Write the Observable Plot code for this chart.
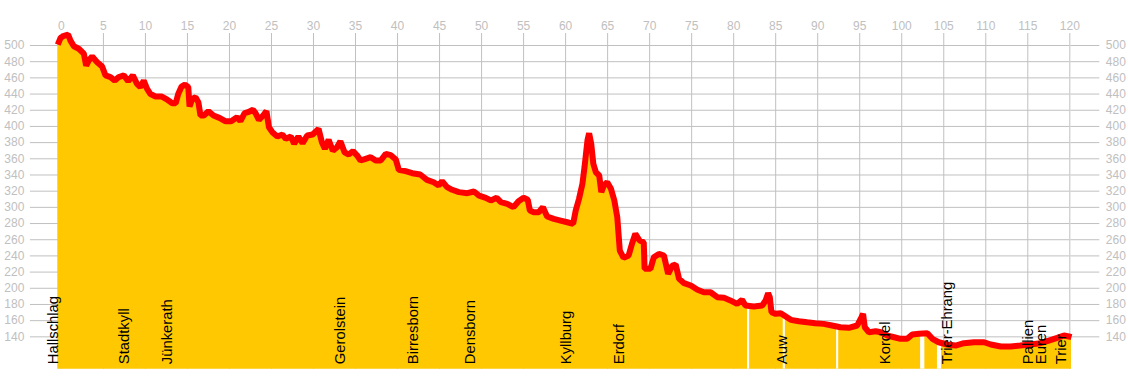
<!DOCTYPE html>
<html>
<head>
<meta charset="utf-8">
<script src="https://cdn.jsdelivr.net/npm/d3@7"></script>
<script src="https://cdn.jsdelivr.net/npm/@observablehq/plot@0.6"></script>
<style>
  html, body { margin: 0; padding: 0; background: #fff; }
  #chart svg { display: block; }
</style>
</head>
<body>
<div id="chart"></div>
<script>
// Distance along the route (km) and elevation (m)
const km = [
  -0.43, -0.1, 0.3, 0.8, 1.08, 1.48, 2.07, 2.67, 2.95, 3.26, 3.66, 4.26, 4.85, 5.25, 5.84, 6.36, 6.83, 7.43, 7.95, 8.5,
  9.0, 9.4, 9.8, 10.2, 10.6, 11.2, 11.9, 12.6, 13.2, 13.6, 13.9, 14.3, 14.7, 15.1, 15.25, 15.56, 15.96, 16.3, 16.55, 16.95,
  17.5, 18.1, 18.8, 19.5, 20.2, 20.9, 21.3, 21.8, 22.2, 22.8, 23.1, 23.5, 24.0, 24.4, 24.7, 25.1, 25.7, 26.3, 26.7, 27.3,
  27.7, 28.2, 28.7, 29.25, 29.9, 30.6, 31.0, 31.35, 31.8, 32.3, 32.8, 33.2, 33.7, 34.2, 34.7, 35.2, 35.6, 36.2, 36.8, 37.4,
  38.0, 38.6, 39.2, 39.8, 40.15, 40.95, 41.75, 42.7, 43.5, 44.3, 44.9, 45.3, 45.9, 46.5, 47.3, 48.3, 49.1, 49.7, 50.5, 51.1,
  51.8, 52.3, 53.05, 53.8, 54.4, 55.0, 55.5, 55.75, 56.2, 56.8, 57.3, 57.8, 58.6, 59.4, 60.2, 60.9, 61.2, 61.6, 62.0, 62.25,
  62.6, 62.8, 63.05, 63.3, 63.6, 64.0, 64.25, 64.55, 64.95, 65.4, 65.8, 66.15, 66.45, 66.9, 67.5, 67.9, 68.3, 68.8, 69.3, 69.4,
  70.1, 70.5, 71.1, 71.7, 72.2, 72.7, 73.1, 73.5, 74.1, 74.9, 75.7, 76.45, 77.25, 78.05, 78.85, 79.6, 80.4, 81.0, 81.4, 82.4,
  83.4, 83.8, 84.1, 84.3, 84.5, 85.0, 85.6, 86.2, 86.8, 87.75, 88.75, 89.7, 90.7, 91.7, 92.7, 93.7, 94.7, 95.2, 95.4, 95.6,
  96.1, 96.9, 97.5, 98.3, 99.1, 99.85, 100.65, 101.25, 102.05, 103.05, 103.65, 104.4, 105.4, 106.4, 107.4, 108.6, 109.8, 110.6, 111.8, 112.95,
  114.1, 115.3, 116.5, 117.5, 118.5, 119.3, 119.9, 120.2
];
const elevation = [
  501, 509.5, 512, 513.6, 506, 499, 496, 490, 475, 481.5, 486.4, 479.4, 474, 463, 461, 456.7, 461, 463, 456, 463,
  452.6, 448.5, 456.7, 446.5, 440, 437, 437, 433, 428.7, 428.7, 440, 449.3, 451.8, 448.5, 424.6, 434, 436, 430, 413.5, 413.5,
  418.8, 413.5, 410.6, 406.5, 406.5, 411.4, 406.5, 416.4, 417.6, 420.5, 416.4, 408.2, 413.5, 418.8, 399, 392.9, 387.5, 390, 384.7, 387.5,
  378.5, 387.5, 379.3, 388.8, 390, 397, 380.5, 372.3, 383.5, 370, 374.3, 381.7, 368, 365.3, 369.4, 364, 357.9, 360, 362, 357.9,
  357.9, 366, 364.5, 359, 346.4, 344.7, 342.2, 340.6, 334, 331, 327, 332.3, 325, 321.7, 318.8, 317.5, 319.6, 314.6, 311.8, 308.5,
  311.8, 306.4, 304.4, 300.2, 307.6, 311.8, 309.3, 296, 294, 294, 300.2, 288.7, 285.8, 283.7, 281.6, 279.7, 296, 310.6, 329, 349.6,
  382.6, 391.6, 378.5, 353.8, 343.4, 339.4, 318.8, 327, 331, 322.9, 308.5, 287.8, 246.6, 237.6, 240.5, 255, 267.3, 259, 256.9, 224,
  224, 238.4, 242.5, 240.5, 217.8, 228, 229.4, 211.7, 206.3, 203.4, 198.1, 195.1, 195.1, 189, 188.2, 185, 180.8, 185.7, 178.7, 177.5,
  178.7, 184.9, 193.9, 189, 170.4, 168.4, 169.2, 165.1, 161, 159.3, 158, 156.8, 156, 154, 151.9, 151.1, 154, 164.2, 168.4, 151.9,
  145.7, 146.9, 145.7, 141.6, 139.5, 137.5, 137.5, 142.9, 143.7, 144.5, 137.5, 133.3, 130.5, 129.2, 132.1, 133.3, 133.3, 130.5, 128, 128,
  129.2, 130.5, 132.1, 135.4, 138.7, 141.6, 140.4, 139.5
];

// Places along the route
const stationNames = ["Hallschlag", "Stadtkyll", "Jünkerath", "Gerolstein", "Birresborn", "Densborn", "Kyllburg", "Erdorf",
  "Auw", "Kordel", "Trier-Ehrang", "Pallien", "Euren", "Trier"];
const stationKm = [-0.4, 8.0, 13.2, 33.8, 42.4, 49.2, 60.7, 66.9, 86.4, 98.6, 106.0, 115.6, 117.2, 119.6];

// Breaks in the profile fill (km)
const gapStart = [81.65, 85.9, 92.25, 102.25, 104.25];
const gapEnd   = [81.9, 86.15, 92.5, 102.75, 104.75];

// Tick labels
const xTicks = [0, 5, 10, 15, 20, 25, 30, 35, 40, 45, 50, 55, 60, 65, 70, 75, 80, 85, 90, 95, 100, 105, 110, 115, 120];
const yTicks = [140, 160, 180, 200, 220, 240, 260, 280, 300, 320, 340, 360, 380, 400, 420, 440, 460, 480, 500];

const profile = km.map((k, i) => ({km: k, elev: elevation[i]}));
const stations = stationNames.map((n, i) => ({name: n, km: stationKm[i]}));
const interp = (k) => {
  const i = d3.bisector(d => d.km).left(profile, k);
  if (i <= 0) return profile[0].elev;
  if (i >= profile.length) return profile[profile.length - 1].elev;
  const a = profile[i - 1], b = profile[i];
  return a.elev + (b.elev - a.elev) * (k - a.km) / (b.km - a.km);
};
const gaps = gapStart.map((s, i) => ({a: s, b: gapEnd[i], top: Math.min(interp(s), interp(gapEnd[i]))}));

const grey = "#c0c0c0";
const font = "'Liberation Sans', Arial, sans-serif";

const chart = Plot.plot({
  width: 1128,
  height: 380,
  marginTop: 33,
  marginBottom: 11.3,
  marginLeft: 60.9,
  marginRight: 58.7,
  x: {domain: [0, 120]},
  y: {domain: [100, 514.83]},
  style: {fontFamily: font, background: "#fff", overflow: "visible"},
  marks: [
    Plot.gridX(xTicks, {stroke: grey, strokeOpacity: 1, strokeWidth: 1}),
    Plot.gridY(yTicks, {stroke: grey, strokeOpacity: 1, strokeWidth: 1}),
    Plot.axisX(xTicks, {anchor: "top", tickSize: 0, tickPadding: 3.5, color: grey, fontSize: 12, fontFamily: font}),
    Plot.axisY(yTicks, {anchor: "left", tickSize: 31, tickPadding: 6, color: grey, fontSize: 12, fontFamily: font}),
    Plot.axisY(yTicks, {anchor: "right", tickSize: 29, tickPadding: 7, color: grey, fontSize: 12, fontFamily: font}),
    Plot.areaY(profile, {x: "km", y1: 100, y2: "elev", fill: "#ffc800"}),
    Plot.rect(gaps, {x1: "a", x2: "b", y1: 100, y2: "top", fill: "#fff"}),
    Plot.line(profile, {x: "km", y: "elev", stroke: "#ff0000", strokeWidth: 6, strokeLinejoin: "miter", strokeLinecap: "butt"}),
    Plot.text(stations, {x: "km", text: "name", frameAnchor: "bottom", dy: -5, rotate: -90, textAnchor: "start",
      fontSize: 14.8, fill: "#000", fontFamily: font})
  ]
});
document.getElementById("chart").appendChild(chart);
</script>
</body>
</html>
